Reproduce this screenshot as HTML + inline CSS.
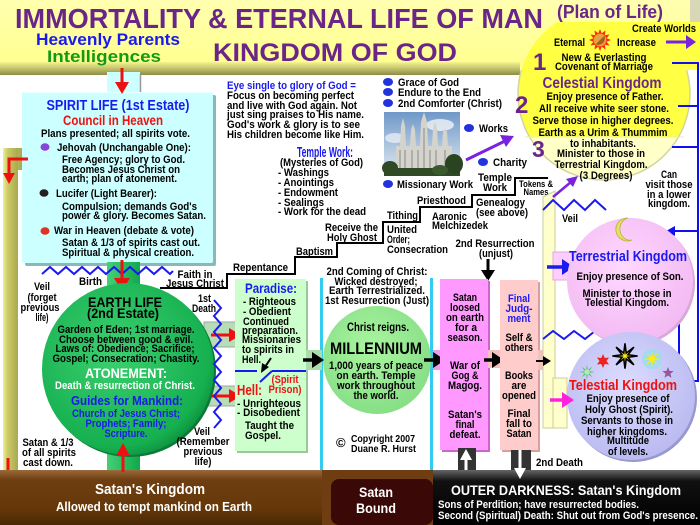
<!DOCTYPE html>
<html><head><meta charset="utf-8"><title>Immortality &amp; Eternal Life of Man</title>
<style>
html,body{margin:0;padding:0;background:#fff;width:700px;height:525px;overflow:hidden}
svg{display:block}
text{font-family:"Liberation Sans",Arial,sans-serif;font-weight:bold;font-size:11px;fill:#000}
.c{text-anchor:middle}
.b{fill:#1a1aee}
.r{fill:#ee1111}
.p{fill:#6b2589}
.w{fill:#fff}
</style></head><body>
<svg width="700" height="525" viewBox="0 0 700 525" xmlns="http://www.w3.org/2000/svg">
<defs>
<linearGradient id="hdr" x1="0" y1="0" x2="0" y2="1"><stop offset="0" stop-color="#ffffb0"/><stop offset="1" stop-color="#ffff8c"/></linearGradient>
<linearGradient id="edge" x1="0" y1="0" x2="0" y2="1"><stop offset="0" stop-color="#f4f490"/><stop offset="0.45" stop-color="#c8c870"/><stop offset="1" stop-color="#8c8c48"/></linearGradient>
<radialGradient id="earth" cx="0.42" cy="0.4" r="0.65"><stop offset="0" stop-color="#3cd070"/><stop offset="0.85" stop-color="#16b050"/><stop offset="1" stop-color="#0c8c3c"/></radialGradient>
<linearGradient id="gbar" x1="0" y1="0" x2="1" y2="0"><stop offset="0" stop-color="#44d077"/><stop offset="1" stop-color="#12a84c"/></linearGradient>
<radialGradient id="mil" cx="0.45" cy="0.4" r="0.65"><stop offset="0" stop-color="#aaf5a0"/><stop offset="1" stop-color="#84dd84"/></radialGradient>
<radialGradient id="ter" cx="0.45" cy="0.4" r="0.65"><stop offset="0" stop-color="#ffd8ff"/><stop offset="1" stop-color="#f2b8f2"/></radialGradient>
<radialGradient id="tel" cx="0.45" cy="0.4" r="0.65"><stop offset="0" stop-color="#dcdcff"/><stop offset="1" stop-color="#b8b8f0"/></radialGradient>
<linearGradient id="brown" x1="0" y1="0" x2="0" y2="1"><stop offset="0" stop-color="#9a6a3a"/><stop offset="0.18" stop-color="#6e3e12"/><stop offset="0.7" stop-color="#663808"/><stop offset="1" stop-color="#4a2806"/></linearGradient>
<linearGradient id="dark" x1="0" y1="0" x2="0" y2="1"><stop offset="0" stop-color="#666"/><stop offset="0.2" stop-color="#111"/><stop offset="1" stop-color="#000"/></linearGradient>
<linearGradient id="sky" x1="0" y1="0" x2="0" y2="1"><stop offset="0" stop-color="#6f98c8"/><stop offset="1" stop-color="#e4ecf2"/></linearGradient>
<linearGradient id="olive" x1="0" y1="0" x2="1" y2="0"><stop offset="0" stop-color="#eeee99"/><stop offset="0.3" stop-color="#cccc66"/><stop offset="1" stop-color="#a8a850"/></linearGradient>
<clipPath id="cTop"><rect x="500" y="22" width="200" height="200"/></clipPath>
<clipPath id="c3"><rect x="500" y="137" width="200" height="100"/></clipPath>
<clipPath id="cLow"><rect x="500" y="70" width="200" height="150"/></clipPath>
</defs>

<!-- ===== HEADER ===== -->
<rect x="0" y="0" width="700" height="70" fill="url(#hdr)"/>
<rect x="690" y="0" width="10" height="22" fill="#d8d8b8"/>
<rect x="0" y="62" width="520" height="13" fill="url(#edge)"/>
<polygon points="560,22 700,22 700,70 540,70 540,37 560,37" fill="#ffff44"/>
<g clip-path="url(#cTop)"><circle cx="604" cy="94" r="86" fill="#ffff44"/></g>
<g clip-path="url(#c3)"><circle cx="604" cy="94" r="86" fill="#ffffc8"/></g>
<g clip-path="url(#cLow)"><circle cx="604" cy="94" r="86" fill="none" stroke="#d4d4a0" stroke-width="1.5"/></g>
<line x1="525" y1="137" x2="684" y2="137" stroke="#eeeeaa" stroke-width="1"/>

<text x="15" y="28" textLength="528" lengthAdjust="spacingAndGlyphs" style="font-size:28px" class="p">IMMORTALITY &amp; ETERNAL LIFE OF MAN</text>
<text x="213" y="61" textLength="244" lengthAdjust="spacingAndGlyphs" style="font-size:25px" class="p">KINGDOM OF GOD</text>
<text x="557" y="18" textLength="106" lengthAdjust="spacingAndGlyphs" style="font-size:18px" class="p">(Plan of Life)</text>
<text x="36" y="45" textLength="144" lengthAdjust="spacingAndGlyphs" style="font-size:17px" class="b">Heavenly Parents</text>
<text x="47" y="62" textLength="114" lengthAdjust="spacingAndGlyphs" style="font-size:17px;fill:#129a12">Intelligences</text>

<text x="632" y="32" textLength="64" lengthAdjust="spacingAndGlyphs">Create Worlds</text>
<line x1="666" y1="42" x2="688" y2="42" stroke="#7a22dd" stroke-width="3"/>
<polygon points="696,42 686,35 686,49" fill="#7a22dd"/>
<text x="554" y="46" textLength="31" lengthAdjust="spacingAndGlyphs">Eternal</text>
<text x="617" y="46" textLength="39" lengthAdjust="spacingAndGlyphs">Increase</text>
<g transform="translate(600,40) scale(0.85)">
<polygon points="13,0 7.73,2.07 11.26,6.5 5.66,5.66 6.5,11.26 2.07,7.73 0,13 -2.07,7.73 -6.5,11.26 -5.66,5.66 -11.26,6.5 -7.73,2.07 -13,0 -7.73,-2.07 -11.26,-6.5 -5.66,-5.66 -6.5,-11.26 -2.07,-7.73 0,-13 2.07,-7.73 6.5,-11.26 5.66,-5.66 11.26,-6.5 7.73,-2.07" fill="#ff2a00"/>
<circle r="7.5" fill="#e8a040"/><path d="M5,-5 A7.5,7.5 0 0 1 -5,5 Z" fill="#a06020"/>
</g>
<text x="604" y="61" class="c" textLength="85" lengthAdjust="spacingAndGlyphs">New &amp; Everlasting</text>
<text x="604" y="70" class="c" textLength="98" lengthAdjust="spacingAndGlyphs">Covenant of Marriage</text>
<text x="533" y="70" style="font-size:24px" class="p">1</text>
<text x="515" y="113" style="font-size:24px" class="p">2</text>
<text x="532" y="157" style="font-size:23px" class="p">3</text>

<text x="602" y="88" class="c p" textLength="119" lengthAdjust="spacingAndGlyphs" style="font-size:16px">Celestial Kingdom</text>
<text x="605" y="100" class="c" textLength="117" lengthAdjust="spacingAndGlyphs">Enjoy presence of Father.</text>
<text x="604" y="112" class="c" textLength="130" lengthAdjust="spacingAndGlyphs">All receive white seer stone.</text>
<text x="603" y="124" class="c" textLength="141" lengthAdjust="spacingAndGlyphs">Serve those in higher degrees.</text>
<text x="603" y="136" class="c" textLength="129" lengthAdjust="spacingAndGlyphs">Earth as a Urim &amp; Thummim</text>
<text x="603" y="147" class="c" textLength="66" lengthAdjust="spacingAndGlyphs">to inhabitants.</text>
<text x="601" y="157" class="c" textLength="88" lengthAdjust="spacingAndGlyphs">Minister to those in</text>
<text x="601" y="168" class="c" textLength="93" lengthAdjust="spacingAndGlyphs">Terrestrial Kingdom.</text>
<text x="606" y="179" class="c" textLength="53" lengthAdjust="spacingAndGlyphs">(3 Degrees)</text>

<!-- blue connector lines right -->
<g stroke="#1010ee" stroke-width="2" fill="none">
<polyline points="672,63 698,63 698,381 686,381"/>
<line x1="678" y1="106" x2="698" y2="106"/>
<line x1="672" y1="147" x2="698" y2="147"/>
<line x1="698" y1="231" x2="674" y2="231"/>
<line x1="679" y1="295" x2="679" y2="364"/>
</g>
<polygon points="666,231 675,226 675,236" fill="#1010ee"/>
<polygon points="679,372 674,363 684,363" fill="#1010ee"/>
<polygon points="679,381 688,376 688,386" fill="#1010ee"/>

<text x="669" y="178" class="c" textLength="16" lengthAdjust="spacingAndGlyphs">Can</text>
<text x="669" y="188" class="c" textLength="47" lengthAdjust="spacingAndGlyphs">visit those</text>
<text x="669" y="198" class="c" textLength="44" lengthAdjust="spacingAndGlyphs">in a lower</text>
<text x="669" y="207" class="c" textLength="42" lengthAdjust="spacingAndGlyphs">kingdom.</text>

<!-- ===== SPIRIT LIFE ===== -->
<rect x="107" y="72" width="33" height="22" fill="#ccffff"/>
<line x1="140.5" y1="74" x2="140.5" y2="92" stroke="#999" stroke-width="1.5"/>
<rect x="25" y="95" width="191" height="171" fill="#88b8b8" rx="2"/>
<rect x="22" y="92" width="191" height="171" fill="#ccffff" rx="2"/>
<line x1="22" y1="92.5" x2="213" y2="92.5" stroke="#e8ffff" stroke-width="1"/>

<text x="118" y="110" class="c b" textLength="143" lengthAdjust="spacingAndGlyphs" style="font-size:15px">SPIRIT LIFE (1st Estate)</text>
<text x="113" y="125" class="c r" textLength="100" lengthAdjust="spacingAndGlyphs" style="font-size:14px">Council in Heaven</text>
<text x="41" y="137" textLength="149" lengthAdjust="spacingAndGlyphs">Plans presented; all spirits vote.</text>
<ellipse cx="45" cy="147" rx="4.5" ry="3.8" fill="#8844dd"/>
<text x="57" y="151" textLength="134" lengthAdjust="spacingAndGlyphs">Jehovah (Unchangable One):</text>
<text x="62" y="163" textLength="123" lengthAdjust="spacingAndGlyphs">Free Agency; glory to God.</text>
<text x="62" y="173" textLength="118" lengthAdjust="spacingAndGlyphs">Becomes Jesus Christ on</text>
<text x="62" y="182" textLength="115" lengthAdjust="spacingAndGlyphs">earth; plan of atonement.</text>
<ellipse cx="44" cy="193" rx="4.5" ry="3.8" fill="#222"/>
<text x="56" y="197" textLength="101" lengthAdjust="spacingAndGlyphs">Lucifer (Light Bearer):</text>
<text x="62" y="210" textLength="135" lengthAdjust="spacingAndGlyphs">Compulsion; demands God's</text>
<text x="62" y="219" textLength="144" lengthAdjust="spacingAndGlyphs">power &amp; glory. Becomes Satan.</text>
<ellipse cx="45" cy="231" rx="4.5" ry="3.8" fill="#dd3322"/>
<text x="54" y="234" textLength="140" lengthAdjust="spacingAndGlyphs">War in Heaven (debate &amp; vote)</text>
<text x="62" y="246" textLength="138" lengthAdjust="spacingAndGlyphs">Satan &amp; 1/3 of spirits cast out.</text>
<text x="62" y="256" textLength="132" lengthAdjust="spacingAndGlyphs">Spiritual &amp; physical creation.</text>

<!-- left olive pillar -->
<rect x="3" y="148" width="19" height="22" fill="url(#olive)"/>
<rect x="3" y="148" width="15" height="325" fill="url(#olive)"/>
<polyline points="28,159 9,159 9,175" fill="none" stroke="#ee1111" stroke-width="3"/>
<polygon points="9,184 3,173 15,173" fill="#ee1111"/>
<line x1="8" y1="458" x2="8" y2="476" stroke="#ee1111" stroke-width="3"/>
<polygon points="8,485 2,474 14,474" fill="#ee1111"/>

<!-- green bar -->
<rect x="107" y="262" width="33" height="210" fill="url(#gbar)"/>

<!-- top red arrow -->
<line x1="122" y1="68" x2="122" y2="84" stroke="#ee1111" stroke-width="3"/>
<polygon points="122,94 115,82 129,82" fill="#ee1111"/>

<!-- veil zigzag under spirit -->
<polyline points="42,274 50,267 58,274 66,267 74,274 82,267 90,274 98,267 106,274 114,267 122,274 130,267 138,274 146,267 154,274 162,267 170,274 173,271" fill="none" stroke="#1a1aee" stroke-width="2"/>

<!-- birth arrow -->
<line x1="122" y1="260" x2="122" y2="280" stroke="#ee1111" stroke-width="3"/>
<polygon points="122,291 114,278 130,278" fill="#ee1111"/>

<text x="42" y="290" class="c" textLength="16" lengthAdjust="spacingAndGlyphs">Veil</text>
<text x="42" y="301" class="c" textLength="29" lengthAdjust="spacingAndGlyphs">(forget</text>
<text x="40" y="311" class="c" textLength="39" lengthAdjust="spacingAndGlyphs">previous</text>
<text x="42" y="321" class="c" textLength="13" lengthAdjust="spacingAndGlyphs">life)</text>
<text x="79" y="285" textLength="23" lengthAdjust="spacingAndGlyphs">Birth</text>
<text x="195" y="278" class="c" textLength="35" lengthAdjust="spacingAndGlyphs">Faith in</text>
<text x="195" y="287" class="c" textLength="58" lengthAdjust="spacingAndGlyphs">Jesus Christ</text>
<text x="198" y="302" textLength="13" lengthAdjust="spacingAndGlyphs">1st</text>
<text x="192" y="312" textLength="24" lengthAdjust="spacingAndGlyphs">Death</text>

<!-- connectors earth->paradise/hell -->
<rect x="204" y="322" width="33" height="25" fill="#b8dcb8" stroke="#98aa98" stroke-width="1"/>
<rect x="204" y="386" width="33" height="20" fill="#b8dcb8" stroke="#98aa98" stroke-width="1"/>

<!-- EARTH LIFE circle -->
<circle cx="130" cy="371" r="86" fill="#0a7a38"/>
<circle cx="128" cy="369" r="86" fill="url(#earth)"/>
<text x="125" y="307" class="c" textLength="74" lengthAdjust="spacingAndGlyphs" style="font-size:14px">EARTH LIFE</text>
<text x="123" y="318" class="c" textLength="72" lengthAdjust="spacingAndGlyphs" style="font-size:14px">(2nd Estate)</text>
<text x="126" y="333" class="c" textLength="137" lengthAdjust="spacingAndGlyphs">Garden of Eden; 1st marriage.</text>
<text x="126" y="343" class="c" textLength="134" lengthAdjust="spacingAndGlyphs">Choose between good &amp; evil.</text>
<text x="125" y="352" class="c" textLength="139" lengthAdjust="spacingAndGlyphs">Laws of: Obedience; Sacrifice;</text>
<text x="126" y="362" class="c" textLength="147" lengthAdjust="spacingAndGlyphs">Gospel; Consecration; Chastity.</text>
<text x="126" y="378" class="c w" textLength="82" lengthAdjust="spacingAndGlyphs" style="font-size:14px">ATONEMENT:</text>
<text x="125" y="389" class="c w" textLength="140" lengthAdjust="spacingAndGlyphs">Death &amp; resurrection of Christ.</text>
<text x="127" y="405" class="c b" textLength="112" lengthAdjust="spacingAndGlyphs" style="font-size:13px">Guides for Mankind:</text>
<text x="126" y="417" class="c b" textLength="108" lengthAdjust="spacingAndGlyphs">Church of Jesus Christ;</text>
<text x="126" y="427" class="c b" textLength="81" lengthAdjust="spacingAndGlyphs">Prophets; Family;</text>
<text x="126" y="437" class="c b" textLength="43" lengthAdjust="spacingAndGlyphs">Scripture.</text>

<!-- red arrows to paradise / hell -->
<line x1="211" y1="335" x2="231" y2="335" stroke="#ee1111" stroke-width="3"/>
<polygon points="241,335 229,328 229,342" fill="#ee1111"/>
<line x1="211" y1="396" x2="231" y2="396" stroke="#ee1111" stroke-width="3"/>
<polygon points="241,396 229,389 229,403" fill="#ee1111"/>

<!-- vertical zigzag veil -->
<polyline points="214,300 221,308 214,316 221,324 214,332 221,340 214,348 221,356 214,364 221,372 214,380 221,388 214,396 221,404 214,412 221,420 214,428" fill="none" stroke="#1a1aee" stroke-width="2"/>

<text x="48" y="446" class="c" textLength="51" lengthAdjust="spacingAndGlyphs">Satan &amp; 1/3</text>
<text x="49" y="456" class="c" textLength="54" lengthAdjust="spacingAndGlyphs">of all spirits</text>
<text x="48" y="466" class="c" textLength="50" lengthAdjust="spacingAndGlyphs">cast down.</text>
<text x="202" y="435" class="c" textLength="16" lengthAdjust="spacingAndGlyphs">Veil</text>
<text x="203" y="445" class="c" textLength="53" lengthAdjust="spacingAndGlyphs">(Remember</text>
<text x="203" y="455" class="c" textLength="39" lengthAdjust="spacingAndGlyphs">previous</text>
<text x="203" y="465" class="c" textLength="17" lengthAdjust="spacingAndGlyphs">life)</text>

<!-- ===== Eye single / temple work ===== -->
<text x="227" y="89" class="b" textLength="129" lengthAdjust="spacingAndGlyphs">Eye single to glory of God =</text>
<text x="227" y="99" textLength="127" lengthAdjust="spacingAndGlyphs">Focus on becoming perfect</text>
<text x="227" y="109" textLength="130" lengthAdjust="spacingAndGlyphs">and live with God again. Not</text>
<text x="227" y="118" textLength="137" lengthAdjust="spacingAndGlyphs">just sing praises to His name.</text>
<text x="227" y="128" textLength="133" lengthAdjust="spacingAndGlyphs">God's work &amp; glory is to see</text>
<text x="227" y="138" textLength="137" lengthAdjust="spacingAndGlyphs">His children become like Him.</text>

<text x="297" y="157" class="b" textLength="56" lengthAdjust="spacingAndGlyphs" style="font-size:15px">Temple Work:</text>
<text x="280" y="166" textLength="83" lengthAdjust="spacingAndGlyphs">(Mysteries of God)</text>
<text x="278" y="176" textLength="51" lengthAdjust="spacingAndGlyphs">- Washings</text>
<text x="278" y="186" textLength="56" lengthAdjust="spacingAndGlyphs">- Anointings</text>
<text x="278" y="196" textLength="60" lengthAdjust="spacingAndGlyphs">- Endowment</text>
<text x="278" y="206" textLength="46" lengthAdjust="spacingAndGlyphs">- Sealings</text>
<text x="278" y="215" textLength="88" lengthAdjust="spacingAndGlyphs">- Work for the dead</text>

<!-- bullets -->
<ellipse cx="388" cy="82" rx="5" ry="4" fill="#2233dd"/>
<ellipse cx="388" cy="92" rx="5" ry="4" fill="#2233dd"/>
<ellipse cx="388" cy="103" rx="5" ry="4" fill="#2233dd"/>
<text x="398" y="86" textLength="61" lengthAdjust="spacingAndGlyphs">Grace of God</text>
<text x="398" y="96" textLength="83" lengthAdjust="spacingAndGlyphs">Endure to the End</text>
<text x="398" y="107" textLength="104" lengthAdjust="spacingAndGlyphs">2nd Comforter (Christ)</text>

<!-- temple photo -->
<rect x="384" y="112" width="76" height="64" fill="url(#sky)"/>
<ellipse cx="440" cy="125" rx="14" ry="6" fill="#f0f4f8" opacity="0.8"/>
<ellipse cx="395" cy="138" rx="10" ry="5" fill="#f0f4f8" opacity="0.7"/>
<polygon points="396,176 396,146 400,146 401,126 403,118 405,126 406,146 410,146 411,130 413,124 415,130 416,146 420,146 421,122 424,112 427,122 428,146 432,146 433,128 435,122 437,128 438,146 442,146 443,132 445,128 447,132 448,146 452,146 452,176" fill="#d4d4cc"/>
<g stroke="#888" stroke-width="1">
<line x1="400" y1="150" x2="400" y2="170"/><line x1="405" y1="150" x2="405" y2="170"/>
<line x1="412" y1="150" x2="412" y2="170"/><line x1="418" y1="150" x2="418" y2="170"/>
<line x1="424" y1="128" x2="424" y2="170"/><line x1="430" y1="150" x2="430" y2="170"/>
<line x1="436" y1="150" x2="436" y2="170"/><line x1="445" y1="150" x2="445" y2="170"/>
</g>
<rect x="384" y="168" width="76" height="8" fill="#2f4a25"/>
<ellipse cx="390" cy="168" rx="8" ry="7" fill="#2f4a25"/>
<ellipse cx="454" cy="164" rx="9" ry="10" fill="#2a4422"/>
<ellipse cx="440" cy="170" rx="8" ry="5" fill="#3a5a2e"/>

<ellipse cx="388" cy="184" rx="5" ry="4" fill="#2233dd"/>
<text x="397" y="188" textLength="76" lengthAdjust="spacingAndGlyphs">Missionary Work</text>
<ellipse cx="469" cy="128" rx="5" ry="4" fill="#2233dd"/>
<text x="479" y="132" textLength="29" lengthAdjust="spacingAndGlyphs">Works</text>
<ellipse cx="483" cy="162" rx="5" ry="4" fill="#2233dd"/>
<text x="493" y="166" textLength="34" lengthAdjust="spacingAndGlyphs">Charity</text>
<line x1="466" y1="160" x2="505" y2="141" stroke="#7a22dd" stroke-width="3"/>
<polygon points="514,136 500,135 506,147" fill="#7a22dd"/>

<!-- staircase -->
<polyline points="160,288 227,288 227,274 295,274 295,257 337,257 337,243 383,243 383,222 420,222 420,207 472,207 472,195 515,195 515,178 548,178" fill="none" stroke="#000" stroke-width="2"/>
<text x="233" y="271" textLength="55" lengthAdjust="spacingAndGlyphs">Repentance</text>
<text x="296" y="255" textLength="37" lengthAdjust="spacingAndGlyphs">Baptism</text>
<text x="325" y="231" textLength="53" lengthAdjust="spacingAndGlyphs">Receive the</text>
<text x="327" y="241" textLength="50" lengthAdjust="spacingAndGlyphs">Holy Ghost</text>
<text x="387" y="219" textLength="31" lengthAdjust="spacingAndGlyphs">Tithing</text>
<text x="387" y="233" textLength="30" lengthAdjust="spacingAndGlyphs">United</text>
<text x="387" y="243" textLength="23" lengthAdjust="spacingAndGlyphs">Order;</text>
<text x="387" y="253" textLength="61" lengthAdjust="spacingAndGlyphs">Consecration</text>
<text x="417" y="204" textLength="49" lengthAdjust="spacingAndGlyphs">Priesthood</text>
<text x="432" y="220" textLength="35" lengthAdjust="spacingAndGlyphs">Aaronic</text>
<text x="432" y="229" textLength="56" lengthAdjust="spacingAndGlyphs">Melchizedek</text>
<text x="476" y="206" textLength="49" lengthAdjust="spacingAndGlyphs">Genealogy</text>
<text x="476" y="216" textLength="52" lengthAdjust="spacingAndGlyphs">(see above)</text>
<text x="495" y="181" class="c" textLength="34" lengthAdjust="spacingAndGlyphs">Temple</text>
<text x="495" y="191" class="c" textLength="24" lengthAdjust="spacingAndGlyphs">Work</text>
<text x="536" y="187" class="c" textLength="34" lengthAdjust="spacingAndGlyphs" style="font-size:9px">Tokens &amp;</text>
<text x="536" y="195" class="c" textLength="25" lengthAdjust="spacingAndGlyphs" style="font-size:9px">Names</text>
<text x="495" y="247" class="c" textLength="79" lengthAdjust="spacingAndGlyphs">2nd Resurrection</text>
<text x="496" y="257" class="c" textLength="34" lengthAdjust="spacingAndGlyphs">(unjust)</text>
<line x1="488" y1="259" x2="488" y2="272" stroke="#000" stroke-width="3"/>
<polygon points="488,281 481,270 495,270" fill="#000"/>

<!-- ===== PARADISE ===== -->
<rect x="237" y="281" width="71" height="172" fill="#99c899"/>
<rect x="235" y="279" width="71" height="172" fill="#ccffcc"/>
<text x="271" y="293" class="c b" textLength="52" lengthAdjust="spacingAndGlyphs" style="font-size:14px">Paradise:</text>
<text x="243" y="305" textLength="53" lengthAdjust="spacingAndGlyphs">- Righteous</text>
<text x="243" y="315" textLength="48" lengthAdjust="spacingAndGlyphs">- Obedient</text>
<text x="243" y="325" textLength="46" lengthAdjust="spacingAndGlyphs">Continued</text>
<text x="242" y="334" textLength="56" lengthAdjust="spacingAndGlyphs">preparation.</text>
<text x="242" y="343" textLength="59" lengthAdjust="spacingAndGlyphs">Missionaries</text>
<text x="242" y="353" textLength="52" lengthAdjust="spacingAndGlyphs">to spirits in</text>
<text x="242" y="363" textLength="19" lengthAdjust="spacingAndGlyphs">Hell.</text>
<g stroke="#1a1aee" stroke-width="2" fill="none">
<line x1="235" y1="371" x2="257" y2="371"/>
<line x1="260" y1="382" x2="272" y2="371"/>
<line x1="272" y1="371" x2="306" y2="371"/>
</g>
<line x1="271" y1="358" x2="265" y2="367" stroke="#000" stroke-width="2"/>
<polygon points="261,373 262,363 269,367" fill="#000"/>
<text x="285" y="383" class="c r" textLength="27" lengthAdjust="spacingAndGlyphs">(Spirit</text>
<text x="285" y="393" class="c r" textLength="33" lengthAdjust="spacingAndGlyphs">Prison)</text>
<text x="237" y="395" class="r" textLength="25" lengthAdjust="spacingAndGlyphs" style="font-size:15px">Hell:</text>
<text x="237" y="407" textLength="64" lengthAdjust="spacingAndGlyphs">- Unrighteous</text>
<text x="237" y="416" textLength="63" lengthAdjust="spacingAndGlyphs">- Disobedient</text>
<text x="245" y="429" textLength="49" lengthAdjust="spacingAndGlyphs">Taught the</text>
<text x="245" y="439" textLength="36" lengthAdjust="spacingAndGlyphs">Gospel.</text>

<!-- ===== MILLENNIUM ===== -->
<rect x="320" y="278" width="3" height="195" fill="#33ccee"/>
<rect x="430" y="278" width="3" height="195" fill="#33ccee"/>
<rect x="306" y="350" width="16" height="20" fill="#aaddaa"/>
<rect x="433" y="350" width="8" height="20" fill="#ee99ee"/>
<circle cx="377" cy="360" r="54" fill="url(#mil)"/>
<text x="377" y="275" class="c" textLength="101" lengthAdjust="spacingAndGlyphs">2nd Coming of Christ:</text>
<text x="376" y="285" class="c" textLength="83" lengthAdjust="spacingAndGlyphs">Wicked destroyed;</text>
<text x="377" y="294" class="c" textLength="96" lengthAdjust="spacingAndGlyphs">Earth Terrestrialized.</text>
<text x="377" y="304" class="c" textLength="104" lengthAdjust="spacingAndGlyphs">1st Resurrection (Just)</text>
<text x="378" y="331" class="c" textLength="62" lengthAdjust="spacingAndGlyphs" style="font-size:12px">Christ reigns.</text>
<text x="376" y="354" class="c" textLength="92" lengthAdjust="spacingAndGlyphs" style="font-size:17px">MILLENNIUM</text>
<text x="376" y="369" class="c" textLength="94" lengthAdjust="spacingAndGlyphs">1,000 years of peace</text>
<text x="376" y="379" class="c" textLength="79" lengthAdjust="spacingAndGlyphs">on earth. Temple</text>
<text x="376" y="389" class="c" textLength="78" lengthAdjust="spacingAndGlyphs">work throughout</text>
<text x="376" y="399" class="c" textLength="45" lengthAdjust="spacingAndGlyphs">the world.</text>
<text x="336" y="447" style="font-size:13px">©</text>
<text x="351" y="442" textLength="64" lengthAdjust="spacingAndGlyphs" style="font-size:10px">Copyright 2007</text>
<text x="351" y="452" textLength="65" lengthAdjust="spacingAndGlyphs" style="font-size:10px">Duane R. Hurst</text>

<!-- black arrows -->
<line x1="303" y1="360" x2="314" y2="360" stroke="#000" stroke-width="3.5"/>
<polygon points="324,360 312,352 312,368" fill="#000"/>
<line x1="424" y1="360" x2="435" y2="360" stroke="#000" stroke-width="3.5"/>
<polygon points="445,360 433,352 433,368" fill="#000"/>

<!-- ===== SATAN COLUMN ===== -->
<rect x="442" y="281" width="48" height="171" fill="#cc66cc"/>
<rect x="440" y="279" width="48" height="171" fill="#ff99ff"/>
<text x="465" y="301" class="c" textLength="24" lengthAdjust="spacingAndGlyphs">Satan</text>
<text x="465" y="311" class="c" textLength="30" lengthAdjust="spacingAndGlyphs">loosed</text>
<text x="465" y="321" class="c" textLength="38" lengthAdjust="spacingAndGlyphs">on earth</text>
<text x="466" y="331" class="c" textLength="22" lengthAdjust="spacingAndGlyphs">for a</text>
<text x="465" y="341" class="c" textLength="35" lengthAdjust="spacingAndGlyphs">season.</text>
<text x="465" y="369" class="c" textLength="30" lengthAdjust="spacingAndGlyphs">War of</text>
<text x="465" y="379" class="c" textLength="27" lengthAdjust="spacingAndGlyphs">Gog &amp;</text>
<text x="465" y="389" class="c" textLength="34" lengthAdjust="spacingAndGlyphs">Magog.</text>
<text x="465" y="418" class="c" textLength="34" lengthAdjust="spacingAndGlyphs">Satan's</text>
<text x="465" y="428" class="c" textLength="19" lengthAdjust="spacingAndGlyphs">final</text>
<text x="465" y="438" class="c" textLength="31" lengthAdjust="spacingAndGlyphs">defeat.</text>

<rect x="488" y="350" width="12" height="18" fill="#f4c0c0"/>
<line x1="484" y1="360" x2="494" y2="360" stroke="#000" stroke-width="3.5"/>
<polygon points="504,360 492,352 492,368" fill="#000"/>

<!-- ===== FINAL JUDGMENT ===== -->
<rect x="502" y="282" width="38" height="170" fill="#d8a0a0"/>
<rect x="500" y="280" width="38" height="170" fill="#ffcccc"/>
<text x="519" y="302" class="c b" textLength="22" lengthAdjust="spacingAndGlyphs">Final</text>
<text x="519" y="312" class="c b" textLength="27" lengthAdjust="spacingAndGlyphs">Judg-</text>
<text x="519" y="322" class="c b" textLength="23" lengthAdjust="spacingAndGlyphs">ment</text>
<text x="519" y="341" class="c" textLength="27" lengthAdjust="spacingAndGlyphs">Self &amp;</text>
<text x="519" y="351" class="c" textLength="28" lengthAdjust="spacingAndGlyphs">others</text>
<text x="519" y="379" class="c" textLength="28" lengthAdjust="spacingAndGlyphs">Books</text>
<text x="519" y="389" class="c" textLength="15" lengthAdjust="spacingAndGlyphs">are</text>
<text x="519" y="399" class="c" textLength="34" lengthAdjust="spacingAndGlyphs">opened</text>
<text x="519" y="417" class="c" textLength="23" lengthAdjust="spacingAndGlyphs">Final</text>
<text x="519" y="427" class="c" textLength="26" lengthAdjust="spacingAndGlyphs">fall to</text>
<text x="519" y="437" class="c" textLength="25" lengthAdjust="spacingAndGlyphs">Satan</text>

<!-- right cream pillar -->
<rect x="538" y="350" width="8" height="20" fill="#f4c0c0"/>
<polygon points="543,197 555,191 555,428 543,428" fill="#ffffcc" stroke="#cccc99" stroke-width="1"/>
<rect x="553" y="378" width="14" height="50" fill="#ffffcc" stroke="#cccc99" stroke-width="1"/>
<line x1="536" y1="361" x2="544" y2="361" stroke="#000" stroke-width="2"/>
<polygon points="551,361 543,356 543,366" fill="#000"/>
<rect x="553" y="252" width="19" height="28" fill="#ffccff" stroke="#ddaadd" stroke-width="1"/>
<line x1="547" y1="267" x2="563" y2="267" stroke="#1a1aee" stroke-width="3.5"/>
<polygon points="574,267 562,259 562,275" fill="#1a1aee"/>
<line x1="553" y1="197" x2="571" y2="182" stroke="#7a22dd" stroke-width="2.5"/>
<polygon points="578,176 566,179 573,187" fill="#7a22dd"/>

<polyline points="543,210 553,200 564,210 574,200 585,210 595,200 606,210" fill="none" stroke="#1a1aee" stroke-width="2"/>
<polyline points="543,339 553,331 564,339 574,331 585,339 595,331 606,339" fill="none" stroke="#1a1aee" stroke-width="2"/>
<text x="562" y="222" textLength="16" lengthAdjust="spacingAndGlyphs">Veil</text>

<!-- TERRESTRIAL -->
<circle cx="632" cy="283" r="63" fill="#d8a8d8"/>
<circle cx="630" cy="281" r="63" fill="url(#ter)"/>
<path d="M628,218 A11.5,11.5 0 1 0 632,240 A9,10 0 1 1 628,218 Z" fill="#e8e060" stroke="#b8b040" stroke-width="0.8"/>
<text x="628" y="261" class="c b" textLength="118" lengthAdjust="spacingAndGlyphs" style="font-size:15px">Terrestrial Kingdom</text>
<text x="630" y="280" class="c" textLength="107" lengthAdjust="spacingAndGlyphs">Enjoy presence of Son.</text>
<text x="627" y="297" class="c" textLength="89" lengthAdjust="spacingAndGlyphs">Minister to those in</text>
<text x="627" y="306" class="c" textLength="84" lengthAdjust="spacingAndGlyphs">Telestial Kingdom.</text>

<!-- TELESTIAL -->
<circle cx="633" cy="398" r="64" fill="#9898d0"/>
<circle cx="631" cy="396" r="64" fill="url(#tel)"/>
<g transform="translate(587,372) scale(0.65)"><polygon points="0,-12 1.15,-2.77 8.49,-8.49 2.77,-1.15 12,0 2.77,1.15 8.49,8.49 1.15,2.77 0,12 -1.15,2.77 -8.49,8.49 -2.77,1.15 -12,0 -2.77,-1.15 -8.49,-8.49 -1.15,-2.77" fill="#44bb44"/><circle r="4" fill="#aaeebb"/></g>
<g transform="translate(603,361)"><polygon points="0,-7 1.75,-3.03 6.06,-3.5 3.5,0 6.06,3.5 1.75,3.03 0,7 -1.75,3.03 -6.06,3.5 -3.5,0 -6.06,-3.5 -1.75,-3.03" fill="#ee2222"/></g>
<g transform="translate(625,356) scale(1.05)"><polygon points="0,-12 1.15,-2.77 8.49,-8.49 2.77,-1.15 12,0 2.77,1.15 8.49,8.49 1.15,2.77 0,12 -1.15,2.77 -8.49,8.49 -2.77,1.15 -12,0 -2.77,-1.15 -8.49,-8.49 -1.15,-2.77" fill="#ffee22" stroke="#000" stroke-width="1.5"/></g>
<circle cx="652" cy="359" r="10" fill="#99ddee" opacity="0.8"/>
<g transform="translate(652,359) scale(0.75)"><polygon points="0,-12 1.15,-2.77 8.49,-8.49 2.77,-1.15 12,0 2.77,1.15 8.49,8.49 1.15,2.77 0,12 -1.15,2.77 -8.49,8.49 -2.77,1.15 -12,0 -2.77,-1.15 -8.49,-8.49 -1.15,-2.77" fill="#ffee00"/></g>
<g transform="translate(668,373) scale(6)"><polygon points="0,-1 0.25,-0.35 0.95,-0.31 0.4,0.13 0.59,0.81 0,0.42 -0.59,0.81 -0.4,0.13 -0.95,-0.31 -0.25,-0.35" fill="#995599"/></g>
<text x="623" y="390" class="c r" textLength="108" lengthAdjust="spacingAndGlyphs" style="font-size:15px">Telestial Kingdom</text>
<text x="628" y="402" class="c" textLength="83" lengthAdjust="spacingAndGlyphs">Enjoy presence of</text>
<text x="629" y="413" class="c" textLength="88" lengthAdjust="spacingAndGlyphs">Holy Ghost (Spirit).</text>
<text x="627" y="424" class="c" textLength="92" lengthAdjust="spacingAndGlyphs">Servants to those in</text>
<text x="627" y="435" class="c" textLength="80" lengthAdjust="spacingAndGlyphs">higher kingdoms.</text>
<text x="628" y="444" class="c" textLength="42" lengthAdjust="spacingAndGlyphs">Multitude</text>
<text x="628" y="455" class="c" textLength="40" lengthAdjust="spacingAndGlyphs">of levels.</text>
<line x1="550" y1="400" x2="564" y2="400" stroke="#ff22dd" stroke-width="3.5"/>
<polygon points="574,400 562,392 562,408" fill="#ff22dd"/>

<!-- ===== BOTTOM BAND ===== -->
<rect x="0" y="470" width="322" height="55" fill="url(#brown)"/>
<rect x="322" y="470" width="111" height="55" fill="#6e3e12"/>
<rect x="331" y="479" width="102" height="46" rx="8" fill="#3a0806"/>
<rect x="433" y="470" width="267" height="55" fill="url(#dark)"/>

<!-- grey bars with white arrows -->
<rect x="458" y="448" width="18" height="22" fill="#333"/>
<rect x="511" y="450" width="20" height="20" fill="#333"/>
<line x1="466" y1="470" x2="466" y2="458" stroke="#fff" stroke-width="3"/>
<polygon points="466,449 460,460 472,460" fill="#fff"/>
<line x1="520" y1="450" x2="520" y2="470" stroke="#fff" stroke-width="3"/>
<polygon points="520,479 514,468 526,468" fill="#fff"/>
<text x="536" y="466" textLength="47" lengthAdjust="spacingAndGlyphs">2nd Death</text>

<!-- up red arrow from Satan's kingdom -->
<line x1="123" y1="472" x2="123" y2="454" stroke="#ee1111" stroke-width="3"/>
<polygon points="123,443 116,456 130,456" fill="#ee1111"/>

<text x="150" y="494" class="c w" textLength="110" lengthAdjust="spacingAndGlyphs" style="font-size:15px">Satan's Kingdom</text>
<text x="154" y="511" class="c w" textLength="196" lengthAdjust="spacingAndGlyphs" style="font-size:13px">Allowed to tempt mankind on Earth</text>
<text x="376" y="497" class="c w" textLength="34" lengthAdjust="spacingAndGlyphs" style="font-size:14px">Satan</text>
<text x="376" y="513" class="c w" textLength="40" lengthAdjust="spacingAndGlyphs" style="font-size:14px">Bound</text>
<text x="451" y="495" class="w" textLength="230" lengthAdjust="spacingAndGlyphs" style="font-size:14px">OUTER DARKNESS: Satan's Kingdom</text>
<text x="438" y="508" class="w" textLength="201" lengthAdjust="spacingAndGlyphs">Sons of Perdition; have resurrected bodies.</text>
<text x="438" y="519" class="w" textLength="260" lengthAdjust="spacingAndGlyphs">Second (Spiritual) Death: Shut out from God's presence.</text>
</svg>
</body></html>
